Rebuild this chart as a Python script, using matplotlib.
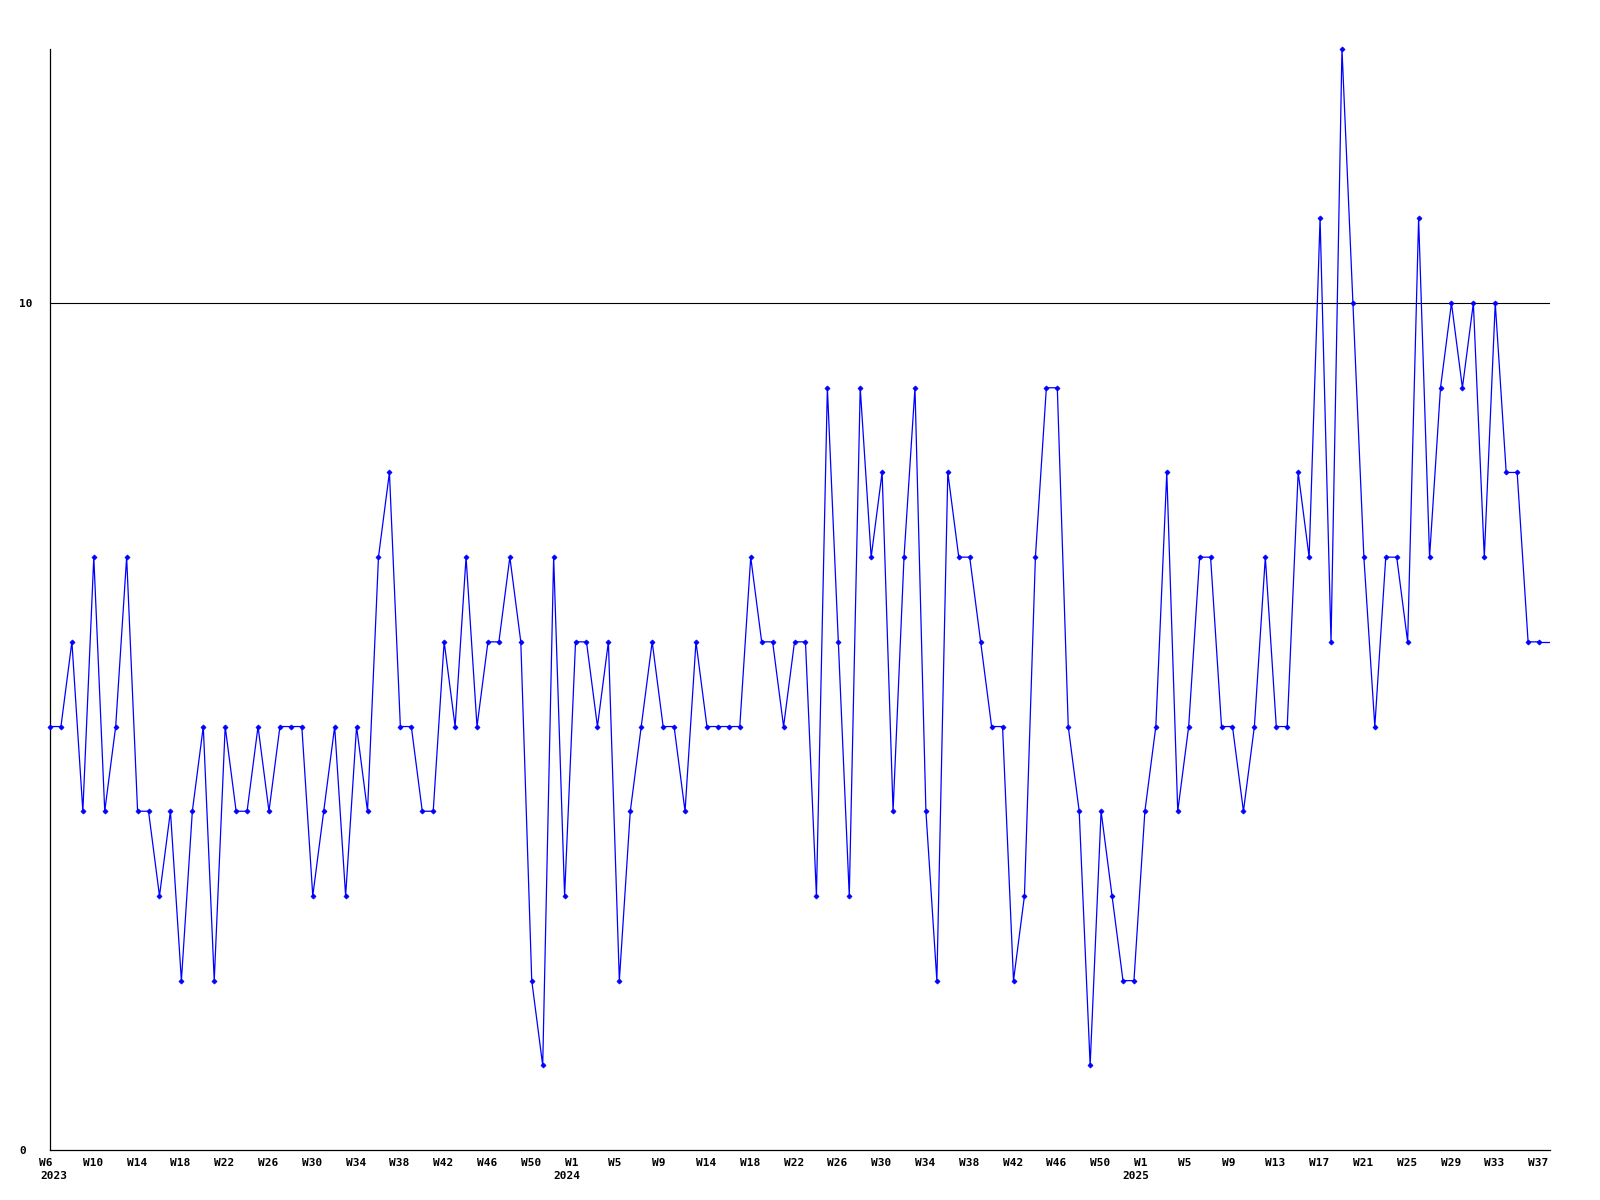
import matplotlib
matplotlib.use('Agg')
import matplotlib.pyplot as plt
import numpy as np

# weekly values, 2023 W6 .. 2025 W38
values = [5, 5, 6, 4, 7, 4, 5, 7, 4, 4, 3, 4, 2, 4, 5, 2, 5, 4, 4, 5,
          4, 5, 5, 5, 3, 4, 5, 3, 5, 4, 7, 8, 5, 5, 4, 4, 6, 5, 7, 5,
          6, 6, 7, 6, 2, 1, 7, 3, 6, 6, 5, 6, 2, 4, 5, 6, 5, 5, 4, 6,
          5, 5, 5, 5, 7, 6, 6, 5, 6, 6, 3, 9, 6, 3, 9, 7, 8, 4, 7, 9,
          4, 2, 8, 7, 7, 6, 5, 5, 2, 3, 7, 9, 9, 5, 4, 1, 4, 3, 2, 2,
          4, 5, 8, 4, 5, 7, 7, 5, 5, 4, 5, 7, 5, 5, 8, 7, 11, 6, 13, 10,
          7, 5, 7, 7, 6, 11, 7, 9, 10, 9, 10, 7, 10, 8, 8, 6, 6]

week_labels = ['W6', 'W10', 'W14', 'W18', 'W22', 'W26', 'W30', 'W34', 'W38', 'W42', 'W46', 'W50',
               'W1', 'W5', 'W9', 'W14', 'W18', 'W22', 'W26', 'W30', 'W34', 'W38', 'W42', 'W46', 'W50',
               'W1', 'W5', 'W9', 'W13', 'W17', 'W21', 'W25', 'W29', 'W33', 'W37']
week_pos = [-1, 3, 7, 11, 15, 19, 23, 27, 31, 35, 39, 43,
            47, 51, 55, 59, 63, 67, 71, 75, 79, 83, 87, 91, 95,
            99, 103, 107, 111, 115, 119, 123, 127, 131, 135]
year_labels = ['2023', '2024', '2025']
year_pos = [-0.9, 46.0, 97.9]

x = np.arange(len(values))
n = len(values)

fig = plt.figure(figsize=(16, 12), dpi=100)
ax = fig.add_axes([50 / 1600, 1 - 1150 / 1200, 1500 / 1600, 1101 / 1200])

font = dict(family='DejaVu Sans Mono', weight='bold', size=8)

ax.axhline(10, color='black', lw=0.8, zorder=1)
# line runs on to the right edge at the last value
ax.plot([x[-1], n], [values[-1], values[-1]], color='#0000ff', lw=0.9, zorder=2)
ax.plot(x, values, color='#0000ff', lw=0.9, marker='D', markersize=2.6,
        markeredgewidth=0.5, zorder=3, clip_on=False)

ax.set_xticks([])
ax.set_xlim(0, n)
ax.set_ylim(0, 13)

for s in ['top', 'right']:
    ax.spines[s].set_visible(False)
for s in ['left', 'bottom']:
    ax.spines[s].set_linewidth(0.9)
    ax.spines[s].set_color('black')

ax.set_yticks([0, 10])
ax.set_yticklabels(['0', '10'], fontdict=font, ha='left')
ax.tick_params(axis='y', length=0, pad=22)

tr = ax.get_xaxis_transform()
for lab, pos in zip(week_labels, week_pos):
    ax.text(pos, -0.0075, lab, transform=tr, ha='left', va='top',
            clip_on=False, **font)

for lab, pos in zip(year_labels, year_pos):
    ax.text(pos, -0.019, lab, transform=tr, ha='left', va='top',
            clip_on=False, **font)

plt.savefig('out.png', dpi=100)
plt.close()
